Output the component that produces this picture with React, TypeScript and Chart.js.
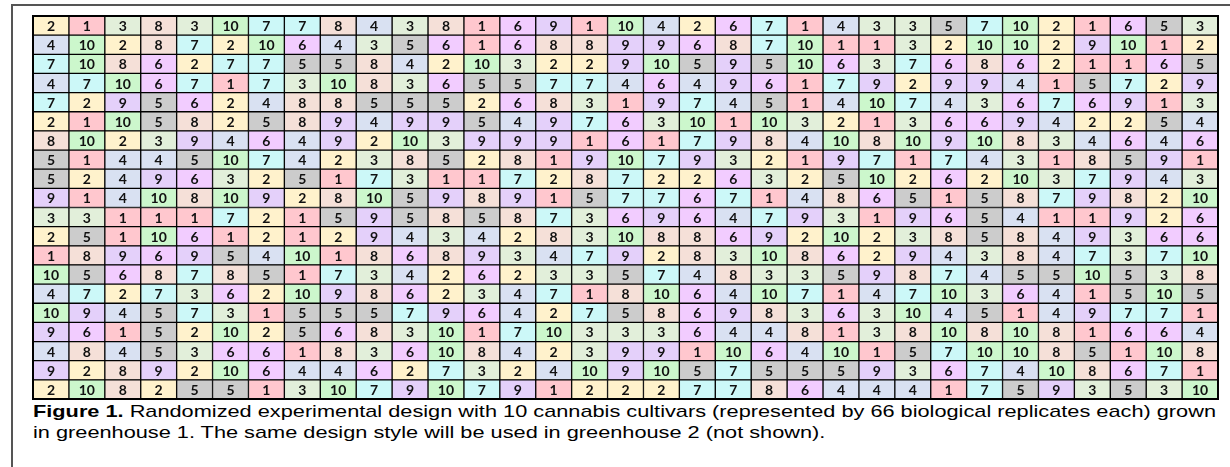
import React, { useEffect, useRef } from "react";
import { Chart, registerables } from "chart.js";

Chart.register(...registerables);

// Row labels (greenhouse bench rows, top to bottom)
const rowLabels = [
  "R1", "R2", "R3", "R4", "R5", "R6", "R7", "R8", "R9", "R10",
  "R11", "R12", "R13", "R14", "R15", "R16", "R17", "R18", "R19", "R20",
];

// Cultivar number (1-10) planted in each cell, row by row, 33 columns
const row01 = [2, 1, 3, 8, 3, 10, 7, 7, 8, 4, 3, 8, 1, 6, 9, 1, 10, 4, 2, 6, 7, 1, 4, 3, 3, 5, 7, 10, 2, 1, 6, 5, 3];
const row02 = [4, 10, 2, 8, 7, 2, 10, 6, 4, 3, 5, 6, 1, 6, 8, 8, 9, 9, 6, 8, 7, 10, 1, 1, 3, 2, 10, 10, 2, 9, 10, 1, 2];
const row03 = [7, 10, 8, 6, 2, 7, 7, 5, 5, 8, 4, 2, 10, 3, 2, 2, 9, 10, 5, 9, 5, 10, 6, 3, 7, 6, 8, 6, 2, 1, 1, 6, 5];
const row04 = [4, 7, 10, 6, 7, 1, 7, 3, 10, 8, 3, 6, 5, 5, 7, 7, 4, 6, 4, 9, 6, 1, 7, 9, 2, 9, 9, 4, 1, 5, 7, 2, 9];
const row05 = [7, 2, 9, 5, 6, 2, 4, 8, 8, 5, 5, 5, 2, 6, 8, 3, 1, 9, 7, 4, 5, 1, 4, 10, 7, 4, 3, 6, 7, 6, 9, 1, 3];
const row06 = [2, 1, 10, 5, 8, 2, 5, 8, 9, 4, 9, 9, 5, 4, 9, 7, 6, 3, 10, 1, 10, 3, 2, 1, 3, 6, 6, 9, 4, 2, 2, 5, 4];
const row07 = [8, 10, 2, 3, 9, 4, 6, 4, 9, 2, 10, 3, 9, 9, 9, 1, 6, 1, 7, 9, 8, 4, 10, 8, 10, 9, 10, 8, 3, 4, 6, 4, 6];
const row08 = [5, 1, 4, 4, 5, 10, 7, 4, 2, 3, 8, 5, 2, 8, 1, 9, 10, 7, 9, 3, 2, 1, 9, 7, 1, 7, 4, 3, 1, 8, 5, 9, 1];
const row09 = [5, 2, 4, 9, 6, 3, 2, 5, 1, 7, 3, 1, 1, 7, 2, 8, 7, 2, 2, 6, 3, 2, 5, 10, 2, 6, 2, 10, 3, 7, 9, 4, 3];
const row10 = [9, 1, 4, 10, 8, 10, 9, 2, 8, 10, 5, 9, 8, 9, 1, 5, 7, 7, 6, 7, 1, 4, 8, 6, 5, 1, 5, 8, 7, 9, 8, 2, 10];
const row11 = [3, 3, 1, 1, 1, 7, 2, 1, 5, 9, 5, 8, 5, 8, 7, 3, 6, 9, 6, 4, 7, 9, 3, 1, 9, 6, 5, 4, 1, 1, 9, 2, 6];
const row12 = [2, 5, 1, 10, 6, 1, 2, 1, 2, 9, 4, 3, 4, 2, 8, 3, 10, 8, 8, 6, 9, 2, 10, 2, 3, 8, 5, 8, 4, 9, 3, 6, 6];
const row13 = [1, 8, 9, 6, 9, 5, 4, 10, 1, 8, 6, 8, 9, 3, 4, 7, 9, 2, 8, 3, 10, 8, 6, 2, 9, 4, 3, 8, 4, 7, 3, 7, 10];
const row14 = [10, 5, 6, 8, 7, 8, 5, 1, 7, 3, 4, 2, 6, 2, 3, 3, 5, 7, 4, 8, 3, 3, 5, 9, 8, 7, 4, 5, 5, 10, 5, 3, 8];
const row15 = [4, 7, 2, 7, 3, 6, 2, 10, 9, 8, 6, 2, 3, 4, 7, 1, 8, 10, 6, 4, 10, 7, 1, 4, 7, 10, 3, 6, 4, 1, 5, 10, 5];
const row16 = [10, 9, 4, 5, 7, 3, 1, 5, 5, 5, 7, 9, 6, 4, 2, 7, 5, 8, 6, 9, 8, 3, 6, 3, 10, 4, 5, 1, 4, 9, 7, 7, 1];
const row17 = [9, 6, 1, 5, 2, 10, 2, 5, 6, 8, 3, 10, 1, 7, 10, 3, 3, 3, 6, 4, 4, 8, 1, 3, 8, 10, 8, 10, 8, 1, 6, 6, 4];
const row18 = [4, 8, 4, 5, 3, 6, 6, 1, 8, 3, 6, 10, 8, 4, 2, 3, 9, 9, 1, 10, 6, 4, 10, 1, 5, 7, 10, 10, 8, 5, 1, 10, 8];
const row19 = [9, 2, 8, 9, 2, 10, 6, 4, 4, 6, 2, 7, 3, 2, 4, 10, 9, 10, 5, 7, 5, 5, 5, 9, 3, 6, 7, 4, 10, 8, 6, 7, 1];
const row20 = [2, 10, 8, 2, 5, 5, 1, 3, 10, 7, 9, 10, 7, 9, 1, 2, 2, 2, 7, 7, 8, 6, 4, 4, 4, 1, 7, 5, 9, 3, 5, 3, 10];

const design = [
  row01, row02, row03, row04, row05, row06, row07, row08, row09, row10,
  row11, row12, row13, row14, row15, row16, row17, row18, row19, row20,
];

// Fill colour for cultivars 1..10
const cultivarColors = [
  "#FFC7CE", // 1
  "#FFF2CC", // 2
  "#E2EFDA", // 3
  "#D9E1F2", // 4
  "#CCCCCC", // 5
  "#F2CCFF", // 6
  "#CCF8F8", // 7
  "#F5E0D8", // 8
  "#E4D0FA", // 9
  "#CCF7CC", // 10
];

const captionBold = "Figure 1.";
const captionLine1 =
  " Randomized experimental design with 10 cannabis cultivars (represented by 66 biological replicates each) grown";
const captionLine2 = "in greenhouse 1. The same design style will be used in greenhouse 2 (not shown).";
const captionTargetWidth = 1183;

const cellLabelPlugin = {
  id: "cellLabels",
  afterDatasetsDraw(chart: any) {
    const ctx = chart.ctx;
    ctx.save();
    ctx.font = "bold 14px Lato, 'Open Sans', sans-serif";
    ctx.fillStyle = "#111";
    ctx.textAlign = "center";
    ctx.textBaseline = "middle";
    chart.data.datasets.forEach((ds: any, di: number) => {
      const meta = chart.getDatasetMeta(di);
      meta.data.forEach((bar: any, ri: number) => {
        const p = bar.getProps(["x", "y", "base"], true);
        const cx = (p.x + p.base) / 2;
        ctx.fillText(String(ds.cultivars[ri]), cx, p.y + 1);
      });
    });
    ctx.restore();
  },
  afterDraw(chart: any) {
    const { ctx, chartArea } = chart;
    ctx.save();
    ctx.strokeStyle = "#000";
    ctx.lineWidth = 2;
    ctx.strokeRect(
      chartArea.left,
      chartArea.top,
      chartArea.right - chartArea.left,
      chartArea.bottom - chartArea.top
    );
    ctx.restore();
  },
};

export default function App() {
  const canvasRef = useRef<HTMLCanvasElement | null>(null);
  const captionRef = useRef<HTMLDivElement | null>(null);
  const line1Ref = useRef<HTMLSpanElement | null>(null);

  useEffect(() => {
    if (line1Ref.current && captionRef.current) {
      const w = line1Ref.current.getBoundingClientRect().width;
      if (w > 0) {
        captionRef.current.style.transform = `scaleX(${captionTargetWidth / w})`;
      }
    }
    if (!canvasRef.current) return;
    const columns = row01.map((_, c) => c);
    const datasets = columns.map((c) => ({
      label: `Col ${c + 1}`,
      data: rowLabels.map(() => 1),
      cultivars: design.map((row) => row[c]),
      backgroundColor: design.map((row) => cultivarColors[row[c] - 1]),
      borderColor: "#000",
      borderWidth: 1,
      borderSkipped: false,
      barPercentage: 1,
      categoryPercentage: 1,
    }));

    const chart = new Chart(canvasRef.current, {
      type: "bar",
      data: { labels: rowLabels, datasets: datasets as any },
      options: {
        indexAxis: "y",
        animation: false,
        responsive: true,
        maintainAspectRatio: false,
        layout: { padding: 1 },
        plugins: {
          legend: { display: false },
          tooltip: { enabled: false },
        },
        scales: {
          x: { stacked: true, min: 0, max: columns.length, display: false },
          y: { stacked: true, display: false },
        },
      },
      plugins: [cellLabelPlugin],
    });
    return () => chart.destroy();
  }, []);

  return (
    <div
      style={{
        position: "absolute",
        left: 0,
        top: 0,
        width: 1230,
        height: 467,
        overflow: "hidden",
        background: "#fff",
      }}
    >
      <div
        style={{
          position: "absolute",
          left: 11,
          top: 4,
          width: 1260,
          height: 500,
          border: "2px solid #555",
          boxSizing: "border-box",
        }}
      />
      <div
        style={{
          position: "absolute",
          left: 32,
          top: 15,
          width: 1187,
          height: 385,
        }}
      >
        <canvas ref={canvasRef} />
      </div>
      <div
        ref={captionRef}
        style={{
          position: "absolute",
          left: 33,
          top: 401,
          fontFamily: "'Liberation Sans', Arial, sans-serif",
          fontSize: 17,
          lineHeight: "21px",
          color: "#000",
          whiteSpace: "nowrap",
          transformOrigin: "0 0",
        }}
      >
        <span ref={line1Ref} style={{ display: "inline-block" }}>
          <b>{captionBold}</b>
          {captionLine1}
        </span>
        <br />
        {captionLine2}
      </div>
    </div>
  );
}
